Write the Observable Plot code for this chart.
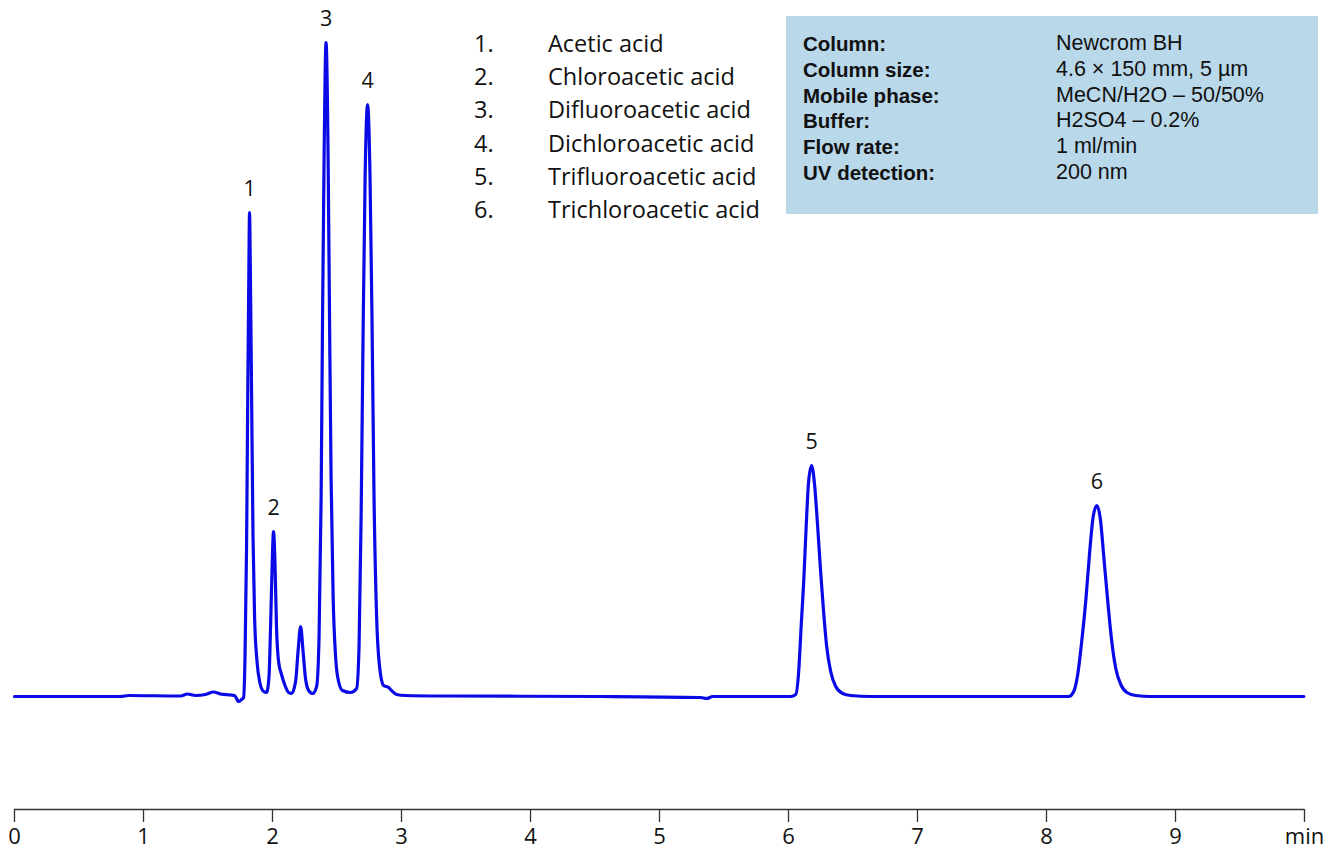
<!DOCTYPE html>
<html>
<head>
<meta charset="utf-8">
<script src="https://cdn.jsdelivr.net/npm/d3@7"></script>
<script src="https://cdn.jsdelivr.net/npm/@observablehq/plot@0.6"></script>
<style>
  html, body { margin: 0; padding: 0; background: #fff; }
  #wrap { position: relative; width: 1332px; height: 849px; font-family: "Open Sans", Lato, sans-serif; color: #111; }
  #legend { position: absolute; left: 474px; top: 27px; font-size: 23.5px; line-height: 33.2px; }
  #legend .row { display: flex; white-space: nowrap; }
  #legend .num { width: 74px; }
  #info { position: absolute; left: 786px; top: 16px; width: 532px; height: 198px; background: #b9d8ea; box-sizing: border-box; padding: 15px 0 0 17px; font-family: "Liberation Sans", Arial, sans-serif; font-size: 21.5px; line-height: 25.8px; }
  #info .row { display: flex; white-space: nowrap; }
  #info .lab { width: 253px; font-weight: bold; font-size: 20.5px; }
</style>
</head>
<body>
<div id="wrap">
  <div id="chart"></div>
  <div id="legend"></div>
  <div id="info"></div>
</div>
<script>
// Chromatogram trace: retention time (min) and detector signal (arb. units)
const times = [
  0, 0.822, 0.884, 1.287, 1.341, 1.403, 1.481, 1.543, 1.597, 1.675, 1.706, 1.737, 1.760,
  1.776, 1.787, 1.799, 1.808, 1.817, 1.822, 1.828, 1.838, 1.849, 1.861, 1.880, 1.900, 1.931, 1.954,
  1.973, 1.985, 1.997, 2.008, 2.020, 2.031, 2.047, 2.070, 2.094, 2.125, 2.148,
  2.179, 2.198, 2.218, 2.237, 2.256, 2.280, 2.311,
  2.342, 2.361, 2.377, 2.388, 2.400, 2.415, 2.431, 2.442, 2.454, 2.470, 2.489, 2.512, 2.543, 2.605,
  2.652, 2.671, 2.687, 2.702, 2.718, 2.737, 2.756, 2.772, 2.787, 2.807, 2.830, 2.861, 2.900, 2.923, 2.962, 3.032,
  3.303, 4.544, 5.319, 5.366, 5.412, 6.017,
  6.056, 6.079, 6.098, 6.118, 6.137, 6.156, 6.179, 6.202, 6.226, 6.249, 6.269, 6.296, 6.327, 6.366, 6.420, 6.482, 6.637,
  8.172, 8.211, 8.242, 8.273, 8.304, 8.335, 8.362, 8.390, 8.417, 8.444, 8.475, 8.506, 8.537, 8.576, 8.623, 8.692, 8.808, 9.995
];
const signal = [
  0, 0, 1, 0.5, 2.5, 1, 2, 4.5, 2.5, 1.5, 1, -5, -3,
  -1, 40, 150, 300, 430, 484, 430, 300, 160, 80, 35, 15, 5, 4,
  20, 70, 130, 165, 130, 70, 35, 22, 12, 4, 3,
  15, 45, 70, 45, 18, 6, 3,
  10, 60, 200, 380, 540, 654, 540, 380, 220, 100, 40, 15, 6, 4,
  8, 50, 180, 360, 520, 592, 520, 370, 200, 80, 30, 11, 9, 6, 2, 1,
  0.5, 0, -1, -2, 0, 0,
  2, 25, 70, 115, 170, 215, 231, 212, 170, 125, 90, 50, 25, 10, 3, 1, 0,
  0, 5, 22, 55, 95, 145, 180, 191, 178, 140, 95, 55, 28, 12, 4, 1, 0, 0
];

// Peak annotations
const peakNumbers = ["1", "2", "3", "4", "5", "6"];
const peakTimes = [1.822, 2.008, 2.415, 2.737, 6.179, 8.390];
const peakHeights = [484, 165, 654, 592, 231, 191];

// Compound legend
const compoundNames = [
  "Acetic acid", "Chloroacetic acid", "Difluoroacetic acid",
  "Dichloroacetic acid", "Trifluoroacetic acid", "Trichloroacetic acid"
];

// Conditions box
const conditionLabels = ["Column:", "Column size:", "Mobile phase:", "Buffer:", "Flow rate:", "UV detection:"];
const conditionValues = ["Newcrom BH", "4.6 × 150 mm, 5 µm", "MeCN/H2O – 50/50%", "H2SO4 – 0.2%", "1 ml/min", "200 nm"];

// Axis ticks
const xTicks = [0, 1, 2, 3, 4, 5, 6, 7, 8, 9, 10];
const xTickLabels = ["0", "1", "2", "3", "4", "5", "6", "7", "8", "9", "min"];

const trace = times.map((t, i) => ({t, s: signal[i]}));
const peaks = peakNumbers.map((n, i) => ({n, t: peakTimes[i], h: peakHeights[i]}));
const yDomain = [-113, 696];

const chart = Plot.plot({
  width: 1332,
  height: 849,
  marginLeft: 14,
  marginRight: 28,
  marginTop: 0,
  marginBottom: 40,
  style: {fontFamily: "'Open Sans', Lato, sans-serif", fontSize: "22px", color: "#111", background: "#fff", overflow: "visible"},
  x: {domain: [0, 10], axis: null},
  y: {domain: yDomain, axis: null},
  marks: [
    Plot.ruleY([yDomain[0]], {stroke: "#333", strokeWidth: 1.3}),
    Plot.axisX({
      ticks: xTicks,
      tickFormat: d => xTickLabels[xTicks.indexOf(d)],
      tickSize: 13,
      tickPadding: 6,
      stroke: "#333",
      strokeWidth: 1.3,
      fill: "#111",
      fontSize: 22,
      label: null
    }),
    Plot.line(trace, {x: "t", y: "s", stroke: "#0a0ae6", strokeWidth: 3.2, curve: "monotone-x", strokeLinejoin: "round"}),
    Plot.text(peaks, {x: "t", y: "h", text: "n", dy: -23, fill: "#111", fontSize: 21.5, lineAnchor: "middle"})
  ]
});
document.getElementById("chart").appendChild(chart);

const legend = document.getElementById("legend");
compoundNames.forEach((name, i) => {
  const row = document.createElement("div");
  row.className = "row";
  row.innerHTML = `<span class="num">${i + 1}.</span><span>${name}</span>`;
  legend.appendChild(row);
});

const info = document.getElementById("info");
conditionLabels.forEach((lab, i) => {
  const row = document.createElement("div");
  row.className = "row";
  row.innerHTML = `<span class="lab">${lab}</span><span>${conditionValues[i]}</span>`;
  info.appendChild(row);
});
</script>
</body>
</html>
